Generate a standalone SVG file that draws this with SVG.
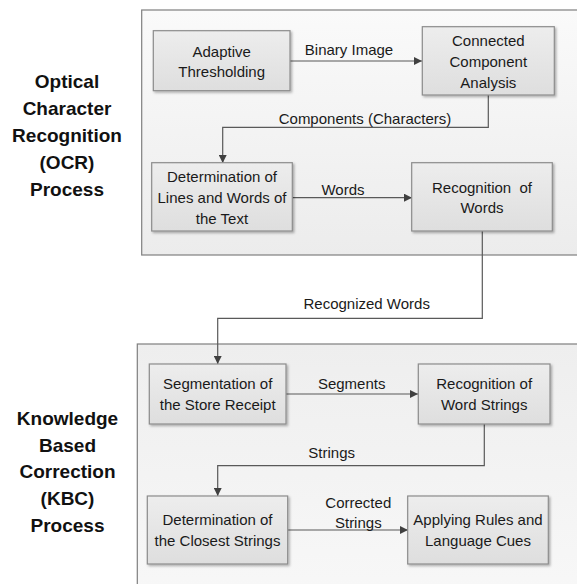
<svg xmlns="http://www.w3.org/2000/svg" width="577" height="584" viewBox="0 0 577 584">
  <defs>
    <linearGradient id="gOcr" x1="0" y1="0" x2="0" y2="1">
      <stop offset="0" stop-color="#fafafa"/>
      <stop offset="1" stop-color="#ececec"/>
    </linearGradient>
    <linearGradient id="gKbc" x1="0" y1="0" x2="0" y2="1">
      <stop offset="0" stop-color="#eeeeee"/>
      <stop offset="1" stop-color="#f8f8f8"/>
    </linearGradient>
    <linearGradient id="gBox" x1="0" y1="0" x2="0" y2="1">
      <stop offset="0" stop-color="#ededed"/>
      <stop offset="1" stop-color="#dedede"/>
    </linearGradient>
    <filter id="shadow" x="-10%" y="-10%" width="125%" height="130%">
      <feDropShadow dx="1.5" dy="1.5" stdDeviation="1" flood-color="#000" flood-opacity="0.3"/>
    </filter>
    <marker id="arrow" viewBox="0 0 10 10" refX="10" refY="5" markerWidth="9" markerHeight="8" markerUnits="userSpaceOnUse" orient="auto">
      <path d="M0,0 L10,5 L0,10 Z" fill="#404040"/>
    </marker>
    <style>
      .panel { stroke: #7f7f7f; stroke-width: 1.2; }
      .box { fill: url(#gBox); stroke: #8c8c8c; stroke-width: 1.2; filter: url(#shadow); }
      .t { font-family: "Liberation Sans", Arial, sans-serif; font-size: 15px; fill: #1a1a1a; text-anchor: middle; }
      .side { font-family: "Liberation Sans", Arial, sans-serif; font-size: 19px; font-weight: bold; fill: #111; text-anchor: middle; }
      .edge { fill: none; stroke: #595959; stroke-width: 1.2; marker-end: url(#arrow); }
    </style>
  </defs>

  <!-- process panels -->
  <g id="panel-ocr">
    <rect class="panel" x="141.7" y="10" width="450" height="245" fill="url(#gOcr)"/>
    <text class="side" x="67" y="88">Optical</text>
    <text class="side" x="67" y="115">Character</text>
    <text class="side" x="67" y="142">Recognition</text>
    <text class="side" x="67" y="169">(OCR)</text>
    <text class="side" x="67" y="196">Process</text>
  </g>
  <g id="panel-kbc">
    <rect class="panel" x="137.3" y="344" width="450" height="260" fill="url(#gKbc)"/>
    <text class="side" x="67.5" y="425">Knowledge</text>
    <text class="side" x="67.5" y="451.7">Based</text>
    <text class="side" x="67.5" y="478.3">Correction</text>
    <text class="side" x="67.5" y="505">(KBC)</text>
    <text class="side" x="67.5" y="531.7">Process</text>
  </g>

  <!-- connectors -->
  <g id="connectors">
    <path class="edge" d="M290,61 H422"/>
    <path class="edge" d="M488.3,95 V127.3 H222.7 V163"/>
    <path class="edge" d="M292,197.7 H412"/>
    <path class="edge" d="M482.3,231 V318.3 H217.7 V364"/>
    <path class="edge" d="M286,394 H418"/>
    <path class="edge" d="M484.3,424 V465.7 H217.7 V496"/>
    <path class="edge" d="M288,530 H408"/>
    <text class="t" x="349" y="54.5">Binary Image</text>
    <text class="t" x="365" y="123.5">Components (Characters)</text>
    <text class="t" x="343" y="194.5">Words</text>
    <text class="t" x="366.7" y="308.5">Recognized Words</text>
    <text class="t" x="351.7" y="388.5">Segments</text>
    <text class="t" x="331.7" y="457.5">Strings</text>
    <text class="t" x="358.3" y="508">Corrected</text>
    <text class="t" x="358.3" y="528">Strings</text>
  </g>

  <!-- OCR steps -->
  <g id="adaptive-thresholding">
    <rect class="box" x="153.3" y="30.7" width="136.7" height="60"/>
    <text class="t" x="221.7" y="56.5">Adaptive</text>
    <text class="t" x="221.7" y="76.5">Thresholding</text>
  </g>
  <g id="connected-component-analysis">
    <rect class="box" x="422.3" y="26.7" width="132" height="68.3"/>
    <text class="t" x="488.3" y="45.5">Connected</text>
    <text class="t" x="488.3" y="66.5">Component</text>
    <text class="t" x="488.3" y="87.5">Analysis</text>
  </g>
  <g id="lines-and-words">
    <rect class="box" x="151.7" y="162.7" width="140.6" height="68.3"/>
    <text class="t" x="222" y="182">Determination of</text>
    <text class="t" x="222" y="203">Lines and Words of</text>
    <text class="t" x="222" y="224">the Text</text>
  </g>
  <g id="recognition-of-words">
    <rect class="box" x="411.7" y="162.7" width="140.6" height="68.3"/>
    <text class="t" x="482" y="193" xml:space="preserve">Recognition  of</text>
    <text class="t" x="482" y="213">Words</text>
  </g>

  <!-- KBC steps -->
  <g id="segmentation">
    <rect class="box" x="149.3" y="364" width="136.7" height="60"/>
    <text class="t" x="217.7" y="389">Segmentation of</text>
    <text class="t" x="217.7" y="409.5">the Store Receipt</text>
  </g>
  <g id="word-strings">
    <rect class="box" x="418.3" y="364" width="131.7" height="60"/>
    <text class="t" x="484.2" y="389">Recognition of</text>
    <text class="t" x="484.2" y="409.5">Word Strings</text>
  </g>
  <g id="closest-strings">
    <rect class="box" x="147.3" y="496" width="140.4" height="68"/>
    <text class="t" x="217.5" y="525">Determination of</text>
    <text class="t" x="217.5" y="545.5">the Closest Strings</text>
  </g>
  <g id="rules-and-cues">
    <rect class="box" x="407.7" y="496" width="140.6" height="68"/>
    <text class="t" x="478" y="525">Applying Rules and</text>
    <text class="t" x="478" y="545.5">Language Cues</text>
  </g>
</svg>
